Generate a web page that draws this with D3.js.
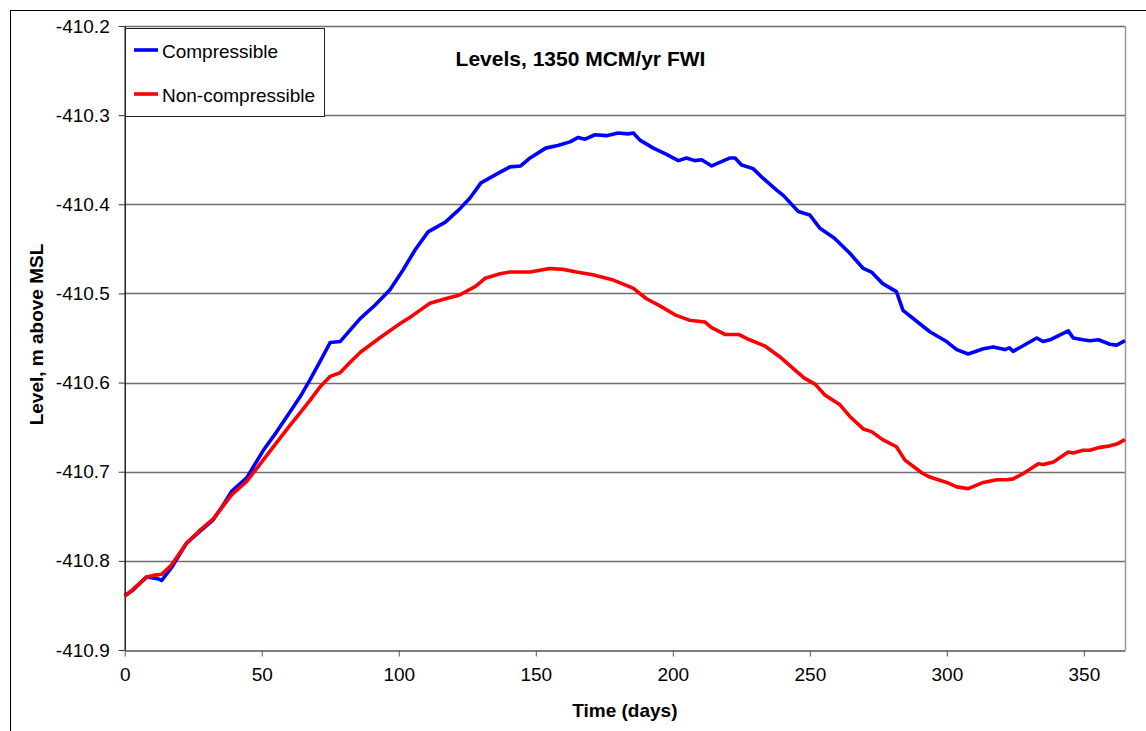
<!DOCTYPE html>
<html>
<head>
<meta charset="utf-8">
<script src="https://cdn.jsdelivr.net/npm/d3@7"></script>
<style>
  html, body { margin: 0; padding: 0; background: #fff; }
  svg { display: block; font-family: "Liberation Sans", Arial, sans-serif; }
</style>
</head>
<body>
<svg id="chart" width="1146" height="731"></svg>
<script>
// ---- Data ----
const chartTitle = "Levels, 1350 MCM/yr FWI";
const xTitle = "Time (days)";
const yTitle = "Level, m above MSL";
const seriesNames = ["Compressible", "Non-compressible"];
const xTicks = [0, 50, 100, 150, 200, 250, 300, 350];
const yTicks = [-410.9, -410.8, -410.7, -410.6, -410.5, -410.4, -410.3, -410.2];

const compDays = [0,3,8,12,13.5,17,22.6,27,32.3,36,39,44.5,50.6,55.5,60.3,64,67.6,71.5,75,78.6,82,86,91.4,96.8,101.5,106,110.7,117,122,126,130,137,140.6,144.5,147.5,153.6,158,162.5,165.5,168,171.6,175.8,180,183.7,185.6,188,192.9,197.7,202,205,208,210.5,214.2,220.9,222.7,225.1,229.3,233,237.9,240.3,245.8,250,253.7,259,264.6,269.5,272.5,276.6,281.6,284,290.1,293.8,299.9,303.6,307.8,313.3,316.9,321.2,322.8,324.2,332.8,335.2,337.6,344.3,346.1,349.7,352.2,355.3,359.5,362,365];
const compLevels = [-410.839,-410.833,-410.818,-410.820,-410.822,-410.808,-410.780,-410.768,-410.754,-410.737,-410.722,-410.707,-410.676,-410.655,-410.633,-410.616,-410.597,-410.575,-410.555,-410.554,-410.542,-410.528,-410.513,-410.496,-410.474,-410.451,-410.431,-410.420,-410.406,-410.393,-410.376,-410.364,-410.358,-410.357,-410.349,-410.337,-410.334,-410.330,-410.325,-410.327,-410.322,-410.323,-410.320,-410.321,-410.320,-410.328,-410.337,-410.344,-410.351,-410.348,-410.351,-410.350,-410.357,-410.348,-410.348,-410.356,-410.360,-410.371,-410.384,-410.390,-410.408,-410.412,-410.427,-410.438,-410.455,-410.472,-410.476,-410.489,-410.498,-410.519,-410.534,-410.543,-410.554,-410.563,-410.568,-410.562,-410.560,-410.563,-410.561,-410.565,-410.550,-410.554,-410.552,-410.542,-410.550,-410.552,-410.553,-410.552,-410.557,-410.558,-410.553];

const nonDays = [0,3,8,11,13.5,17,22.6,27,32.3,36,39,44.5,50.5,55.5,60.3,64,67.6,71.5,75,78.6,82,86,93,100.4,104,107.7,111.4,117,122,128,131.5,137,140.6,148,155,160,164.9,170.8,178.3,185.5,190.4,195.3,200.8,206,211.7,214,219,224,228,233.6,239,244.6,248,252,255.5,261,264.6,269.5,272.5,276.6,281.6,284.7,291.2,293.8,299.9,303.6,307.8,313.3,318.2,321.8,324.2,327.9,333.4,335.2,338.9,344.3,346.1,349.7,352.2,355.3,359.5,362,365];
const nonLevels = [-410.840,-410.832,-410.818,-410.816,-410.815,-410.805,-410.780,-410.767,-410.753,-410.738,-410.726,-410.711,-410.687,-410.667,-410.648,-410.634,-410.620,-410.604,-410.593,-410.589,-410.578,-410.566,-410.550,-410.534,-410.527,-410.519,-410.511,-410.506,-410.502,-410.492,-410.483,-410.478,-410.476,-410.476,-410.472,-410.473,-410.476,-410.479,-410.485,-410.494,-410.506,-410.514,-410.524,-410.530,-410.532,-410.538,-410.546,-410.546,-410.552,-410.559,-410.571,-410.586,-410.595,-410.602,-410.614,-410.625,-410.638,-410.652,-410.655,-410.664,-410.672,-410.687,-410.702,-410.706,-410.712,-410.717,-410.719,-410.712,-410.709,-410.709,-410.708,-410.702,-410.691,-410.692,-410.689,-410.678,-410.679,-410.676,-410.676,-410.673,-410.671,-410.669,-410.664];

const seriesColors = ["#0000FF", "#FF0000"];

// ---- Layout ----
const svg = d3.select("#chart");
const plot = { left: 124.7, right: 1125, top: 26, bottom: 650 };

const x = d3.scaleLinear().domain([0, 365]).range([plot.left, plot.right]);
const y = d3.scaleLinear().domain([-410.9, -410.2]).range([plot.bottom, plot.top]);

// outer chart border
svg.append("rect")
  .attr("x", 10.5).attr("y", 10.5)
  .attr("width", 1200).attr("height", 800)
  .attr("fill", "#fff").attr("stroke", "#000").attr("stroke-width", 1);

// gridlines
svg.append("g")
  .selectAll("line")
  .data(yTicks.slice(1))
  .join("line")
  .attr("x1", plot.left).attr("x2", plot.right)
  .attr("y1", d => Math.round(y(d)) + 0.5).attr("y2", d => Math.round(y(d)) + 0.5)
  .attr("stroke", "#6e6e6e").attr("stroke-width", 1.3);

// right border of plot
svg.append("line")
  .attr("x1", plot.right + 0.5).attr("x2", plot.right + 0.5)
  .attr("y1", plot.top).attr("y2", plot.bottom)
  .attr("stroke", "#9a9a9a").attr("stroke-width", 1.5);

// X axis
const xAxis = d3.axisBottom(x).tickValues(xTicks).tickSize(6).tickSizeOuter(0).tickPadding(11)
  .tickFormat(d => String(d));
const gx = svg.append("g").attr("transform", `translate(0,${plot.bottom + 0.5})`).call(xAxis);
gx.select(".domain").attr("stroke", "#555").attr("stroke-width", 1.3);
gx.selectAll(".tick line").attr("stroke", "#555");
gx.selectAll(".tick text").attr("font-size", 19).attr("fill", "#000")
  .attr("font-family", "'Liberation Sans', Arial, sans-serif");

// Y axis
const yAxis = d3.axisLeft(y).tickValues(yTicks).tickSize(6).tickSizeOuter(0).tickPadding(9)
  .tickFormat(d => d.toFixed(1));
const gy = svg.append("g").attr("transform", `translate(${plot.left},0)`).call(yAxis);
gy.select(".domain").attr("stroke", "#000").attr("stroke-width", 1.3);
gy.selectAll(".tick line").attr("stroke", "#333");
gy.selectAll(".tick text").attr("font-size", 19).attr("fill", "#000")
  .attr("font-family", "'Liberation Sans', Arial, sans-serif");

// lines
const line = d3.line().x(d => x(d[0])).y(d => y(d[1]));
const series = [
  d3.zip(compDays, compLevels),
  d3.zip(nonDays, nonLevels)
];
svg.append("g")
  .selectAll("path")
  .data(series)
  .join("path")
  .attr("d", line)
  .attr("fill", "none")
  .attr("stroke", (d, i) => seriesColors[i])
  .attr("stroke-width", 3.6)
  .attr("stroke-linejoin", "round")
  .attr("stroke-linecap", "butt");

// Legend
const lg = svg.append("g");
lg.append("rect")
  .attr("x", 125.5).attr("y", 28.5).attr("width", 199).attr("height", 88)
  .attr("fill", "#fff").attr("stroke", "#222").attr("stroke-width", 1);
const legendRowsY = [50, 94];
seriesNames.forEach((name, i) => {
  lg.append("line")
    .attr("x1", 134).attr("x2", 158)
    .attr("y1", legendRowsY[i]).attr("y2", legendRowsY[i])
    .attr("stroke", seriesColors[i]).attr("stroke-width", 3.6);
  lg.append("text")
    .attr("x", 162).attr("y", legendRowsY[i] + 8)
    .attr("font-size", 19).attr("fill", "#000")
    .text(name);
});

// Title
svg.append("text")
  .attr("x", 580.5).attr("y", 66)
  .attr("text-anchor", "middle")
  .attr("font-size", 21).attr("font-weight", "bold")
  .text(chartTitle);

// Axis titles
svg.append("text")
  .attr("x", (plot.left + plot.right) / 2).attr("y", 717)
  .attr("text-anchor", "middle")
  .attr("font-size", 19).attr("font-weight", "bold")
  .text(xTitle);

svg.append("text")
  .attr("transform", `translate(43,${334.5}) rotate(-90)`)
  .attr("text-anchor", "middle")
  .attr("font-size", 19).attr("font-weight", "bold")
  .text(yTitle);
</script>
</body>
</html>
